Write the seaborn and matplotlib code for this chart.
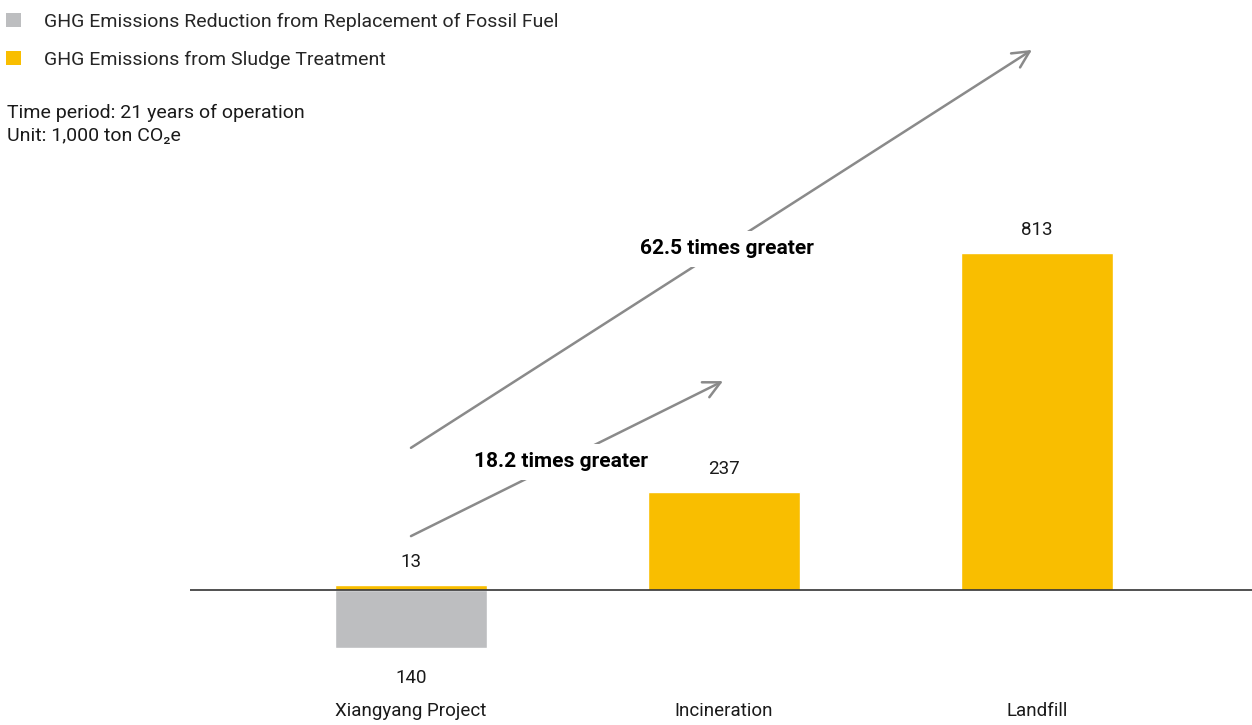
import matplotlib
matplotlib.use("Agg")
import matplotlib.pyplot as plt
from matplotlib.patches import Patch
import seaborn as sns
import pandas as pd

# Data (1,000 ton CO2e over 21 years of operation)
categories = ["Xiangyang Project", "Incineration", "Landfill"]
sludge_emissions = [13, 237, 813]
fossil_reduction = [-140]          # only the Xiangyang project replaces fossil fuel
reduction_categories = ["Xiangyang Project"]
legend_labels = ["GHG Emissions Reduction from Replacement of Fossil Fuel",
                 "GHG Emissions from Sludge Treatment"]
ratio_labels = ["18.2 times greater", "62.5 times greater"]

YELLOW = "#F9BE00"
GREY = "#BDBEC0"
ARROW = "#8A8A8A"
TEXT = "#1a1a1a"

sns.set_theme(style="white")
FONT = ["Roboto", "DejaVu Sans"]
plt.rcParams["font.family"] = FONT

fig = plt.figure(figsize=(12.52, 7.25), dpi=100)
ax = fig.add_axes([190 / 1252, 0, 1 - 190 / 1252, 1])

emis_df = pd.DataFrame({"category": categories, "value": sludge_emissions})
red_df = pd.DataFrame({"category": reduction_categories, "value": fossil_reduction})

sns.barplot(data=emis_df, x="category", y="value", order=categories,
            color=YELLOW, saturation=1, width=0.486, ax=ax, errorbar=None)
sns.barplot(data=red_df, x="category", y="value", order=categories,
            color=GREY, saturation=1, width=0.486, ax=ax, errorbar=None)

ax.set_xlim(-0.706, 2.687)
ax.set_ylim(-325.7, 1423.4)
ax.axhline(0, color="#333333", lw=1.2, zorder=3)
for s in ax.spines.values():
    s.set_visible(False)
ax.set_xticks([])
ax.set_yticks([])
ax.set_xlabel("")
ax.set_ylabel("")

# value labels
for i, v in enumerate(sludge_emissions):
    ax.text(i, v + 55, f"{v}", ha="center", va="center", fontsize=13.5, color=TEXT)
for cat, v in zip(reduction_categories, fossil_reduction):
    i = categories.index(cat)
    ax.text(i, v - 72, f"{abs(v)}", ha="center", va="center", fontsize=13.5, color=TEXT)

# category labels
for i, c in enumerate(categories):
    ax.text(i, -292, c, ha="center", va="center", fontsize=13.5, color=TEXT)

# comparison arrows
arrow_kw = dict(arrowstyle="->,head_length=1.0,head_width=0.5", color=ARROW, lw=1.8,
                shrinkA=0, shrinkB=0)
ax.annotate("", xy=(0.997, 504), xytext=(0.0, 130), arrowprops=arrow_kw, zorder=1)
ax.annotate("", xy=(1.984, 1303), xytext=(0.0, 343), arrowprops=arrow_kw, zorder=1)

box = dict(facecolor="white", edgecolor="none", pad=6)
ax.text(0.479, 309, ratio_labels[0], ha="center", va="center", fontsize=15,
        fontweight="bold", color="black", bbox=box, zorder=2)
ax.text(1.01, 823, ratio_labels[1], ha="center", va="center", fontsize=15,
        fontweight="bold", color="black", bbox=box, zorder=2)

# legend
handles = [Patch(facecolor=GREY, edgecolor="none"), Patch(facecolor=YELLOW, edgecolor="none")]
fig.legend(handles, legend_labels, loc="upper left", bbox_to_anchor=(-5 / 1252, 1 - 2 / 725),
           frameon=False, fontsize=14, handlelength=0.78, handleheight=0.78,
           handletextpad=1.2, labelspacing=1.03, borderaxespad=0.3, borderpad=0.25)

fig.text(7 / 1252, 1 - 113 / 725, "Time period: 21 years of operation",
         ha="left", va="center", fontsize=14, color=TEXT)
fig.text(7 / 1252, 1 - 136 / 725, "Unit: 1,000 ton CO\u2082e",
         ha="left", va="center", fontsize=14, color=TEXT)

fig.savefig("out.png", dpi=100)
